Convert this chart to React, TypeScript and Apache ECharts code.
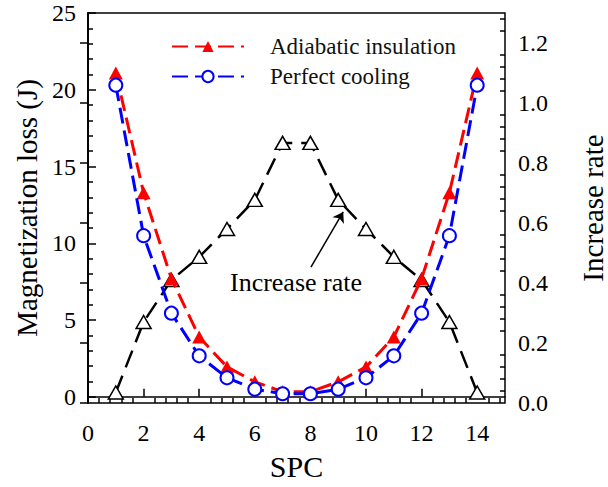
import React, { useEffect, useRef } from "react";
import * as echarts from "echarts";

const spc = [1, 2, 3, 4, 5, 6, 7, 8, 9, 10, 11, 12, 13, 14];
const adiabatic = [21.1, 13.3, 7.7, 3.9, 1.95, 0.98, 0.33, 0.33, 0.98, 1.95, 3.9, 7.7, 13.3, 21.1];
const cooling = [20.3, 10.5, 5.45, 2.67, 1.24, 0.5, 0.2, 0.2, 0.5, 1.24, 2.67, 5.45, 10.5, 20.3];
const increaseRate = [0.035, 0.27, 0.41, 0.487, 0.58, 0.677, 0.867, 0.867, 0.677, 0.58, 0.487, 0.41, 0.27, 0.035];

const xTicks = [0, 2, 4, 6, 8, 10, 12, 14];
const leftTicks = [0, 5, 10, 15, 20, 25];
const rightTicks = [0, 0.2, 0.4, 0.6, 0.8, 1.0, 1.2];
const xMinor = [0.4, 0.8, 1.2, 1.6, 2.4, 2.8, 3.2, 3.6, 4.4, 4.8, 5.2, 5.6, 6.4, 6.8, 7.2, 7.6, 8.4, 8.8, 9.2, 9.6, 10.4, 10.8, 11.2, 11.6, 12.4, 12.8, 13.2, 13.6, 14.4, 14.8];
const leftMinor = [1, 2, 3, 4, 6, 7, 8, 9, 11, 12, 13, 14, 16, 17, 18, 19, 21, 22, 23, 24];
const rightMinor = [0.04, 0.08, 0.12, 0.16, 0.24, 0.28, 0.32, 0.36, 0.44, 0.48, 0.52, 0.56, 0.64, 0.68, 0.72, 0.76, 0.84, 0.88, 0.92, 0.96, 1.04, 1.08, 1.12, 1.16, 1.24, 1.28];

const FONT = "Liberation Serif";

export default function App() {
  const ref = useRef<HTMLDivElement>(null);
  useEffect(() => {
    if (!ref.current) return;
    const chart = echarts.init(ref.current, undefined, { renderer: "svg" });
    const tickStyle = { color: "#000", width: 1.5 };
    const pair = (vals: number[]) => spc.map((x, i) => [x, vals[i]]);
    const option: any = {
      animation: false,
      backgroundColor: "#fff",
      textStyle: { fontFamily: FONT },
      grid: {
        left: 88,
        right: 103,
        top: 13,
        bottom: 84,
        outerBoundsMode: "none",
        containLabel: false,
        show: true,
        borderColor: "#000",
        borderWidth: 1.5,
        backgroundColor: "transparent",
      },
      legend: {
        data: ["Adiabatic insulation", "Perfect cooling"],
        orient: "vertical",
        left: 166,
        top: 30,
        itemWidth: 72,
        itemHeight: 14,
        itemGap: 7,
        formatter: (n: string) => "{a|" + n + "}",
        textStyle: {
          fontFamily: FONT,
          fontSize: 23,
          color: "#111",
          rich: { a: { fontFamily: FONT, fontSize: 23, color: "#111", padding: [0, 0, 0, 21] } },
        },
      },
      xAxis: [
        {
          type: "value",
          min: 0,
          max: 15,
          name: "SPC",
          nameLocation: "middle",
          nameGap: 48,
          nameTextStyle: { fontFamily: FONT, fontSize: 30, color: "#000" },
          axisLine: { show: true, lineStyle: { color: "#000", width: 1.5 } },
          axisTick: { show: true, inside: true, length: 8, lineStyle: tickStyle, customValues: xTicks },
          axisLabel: { customValues: xTicks, fontFamily: FONT, fontSize: 24, color: "#000", margin: 18 },
          splitLine: { show: false },
        },
        {
          type: "value",
          min: 0,
          max: 15,
          position: "bottom",
          axisLine: { show: false },
          axisTick: { show: true, inside: true, length: 5, lineStyle: tickStyle, customValues: xMinor },
          axisLabel: { show: false },
          splitLine: { show: false },
        },
      ],
      yAxis: [
        {
          type: "value",
          min: -0.4,
          max: 25,
          position: "left",
          name: "Magnetization loss (J)",
          nameLocation: "middle",
          nameRotate: 90,
          nameGap: 46,
          nameTextStyle: { fontFamily: FONT, fontSize: 29, color: "#000" },
          axisLine: { show: true, lineStyle: { color: "#000", width: 1.5 } },
          axisTick: { show: true, inside: true, length: 8, lineStyle: tickStyle, customValues: leftTicks },
          axisLabel: { customValues: leftTicks, fontFamily: FONT, fontSize: 24, color: "#000", margin: 12 },
          splitLine: { show: false },
        },
        {
          type: "value",
          min: 0,
          max: 1.3,
          position: "right",
          name: "Increase rate",
          nameLocation: "middle",
          nameRotate: 90,
          nameGap: 73,
          nameTextStyle: { fontFamily: FONT, fontSize: 29, color: "#000" },
          axisLine: { show: true, lineStyle: { color: "#000", width: 1.5 } },
          axisTick: { show: true, inside: true, length: 8, lineStyle: tickStyle, customValues: rightTicks },
          axisLabel: {
            customValues: rightTicks,
            fontFamily: FONT,
            fontSize: 24,
            color: "#000",
            margin: 13,
            formatter: (v: number) => v.toFixed(1),
          },
          splitLine: { show: false },
        },
        {
          type: "value",
          min: -0.4,
          max: 25,
          position: "left",
          axisLine: { show: false },
          axisTick: { show: true, inside: true, length: 5, lineStyle: tickStyle, customValues: leftMinor },
          axisLabel: { show: false },
          splitLine: { show: false },
        },
        {
          type: "value",
          min: 0,
          max: 1.3,
          position: "right",
          axisLine: { show: false },
          axisTick: { show: true, inside: true, length: 5, lineStyle: tickStyle, customValues: rightMinor },
          axisLabel: { show: false },
          splitLine: { show: false },
        },
      ],
      series: [
        {
          name: "Adiabatic insulation",
          type: "line",
          xAxisIndex: 0,
          yAxisIndex: 0,
          data: pair(adiabatic),
          symbol: "triangle",
          symbolSize: [14, 13],
          itemStyle: { color: "#ff0000" },
          lineStyle: { color: "#ff0000", width: 3, type: [16, 7] },
          z: 3,
        },
        {
          name: "Perfect cooling",
          type: "line",
          xAxisIndex: 0,
          yAxisIndex: 0,
          data: pair(cooling),
          symbol: "circle",
          symbolSize: 13,
          itemStyle: { color: "#ffffff", borderColor: "#0000ff", borderWidth: 2 },
          lineStyle: { color: "#0000ff", width: 3, type: [16, 7] },
          z: 4,
        },
        {
          name: "Increase rate",
          type: "line",
          xAxisIndex: 0,
          yAxisIndex: 1,
          data: pair(increaseRate),
          symbol: "triangle",
          symbolSize: [15, 13],
          itemStyle: { color: "#ffffff", borderColor: "#000", borderWidth: 1.5 },
          lineStyle: { color: "#000", width: 2.5, type: [18, 9] },
          z: 2,
          markLine: {
            silent: true,
            symbol: ["none", "arrow"],
            symbolSize: 10,
            label: { show: false },
            lineStyle: { color: "#000", width: 1.5, type: "solid" },
            data: [[{ coord: [8.02, 0.453] }, { coord: [9.18, 0.637] }]],
          },
        },
      ],
      graphic: [
        {
          type: "text",
          x: 296,
          y: 282,
          style: {
            text: "Increase rate",
            fontFamily: FONT,
            fontSize: 26,
            fill: "#000",
            align: "center",
            verticalAlign: "middle",
          },
        },
      ],
    };
    chart.setOption(option);
    return () => chart.dispose();
  }, []);
  return (
    <div
      ref={ref}
      style={{ position: "fixed", left: 0, top: 0, width: 608, height: 487, background: "#fff" }}
    />
  );
}
